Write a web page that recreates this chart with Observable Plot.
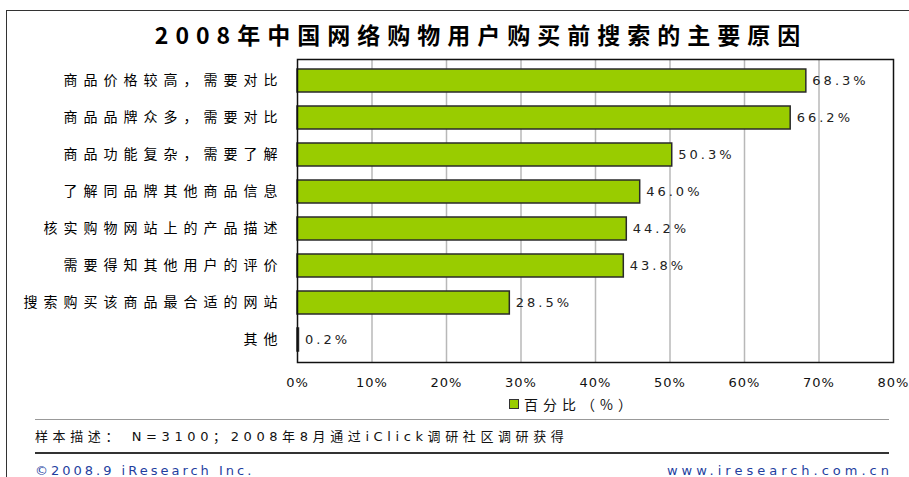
<!DOCTYPE html>
<html>
<head>
<meta charset="utf-8">
<script src="https://cdn.jsdelivr.net/npm/d3@7"></script>
<script src="https://cdn.jsdelivr.net/npm/@observablehq/plot@0.6"></script>
<style>
  html, body { margin: 0; padding: 0; background: #fff; }
  #wrap { position: relative; width: 909px; height: 477px; overflow: hidden; background: #fff;
          font-family: "DejaVu Sans", "Noto Sans CJK SC", sans-serif; color: #111; }
  #outer { position: absolute; left: 6px; top: 10px; width: 950px; height: 500px;
           border-top: 1.5px solid #333; border-left: 1.5px solid #333; }
  #title { position: absolute; left: 0; top: 19px; width: 962px; text-align: center;
           font-family: "Noto Sans CJK SC", sans-serif; font-weight: bold; font-size: 23px;
           letter-spacing: 7px; line-height: 30px; color: #000; }
  #chart { position: absolute; left: 0; top: 0; }
  #legend { position: absolute; left: 509px; top: 396px; font-size: 14px; line-height: 16px;
            font-family: "Noto Sans CJK SC", sans-serif; letter-spacing: 5px; display: flex; align-items: center; }
  #legend .sw { width: 8px; height: 8px; background: #99cc00; border: 1.5px solid #333; margin-right: 5px; }
  .line { position: absolute; left: 35px; width: 854px; }
  #note { position: absolute; left: 35px; top: 428px; font-size: 13px; line-height: 18px; letter-spacing: 4.6px; }
  #copy { position: absolute; left: 35px; top: 462px; font-size: 13px; line-height: 18px; letter-spacing: 3px; color: #1f3f9f; }
  #site { position: absolute; right: 16px; top: 462px; font-size: 13px; line-height: 18px; letter-spacing: 4px; color: #1f3f9f; }
  g[aria-label="y-axis tick label"] text { letter-spacing: 6px; }
  g[aria-label="x-axis tick label"] text { letter-spacing: 1px; }
  g[aria-label="text"] text { letter-spacing: 3px; }
</style>
</head>
<body>
<div id="wrap">
  <div id="outer"></div>
  <div id="chart"></div>
  <div id="title"></div>
  <div id="legend"><div class="sw"></div><span id="legtext"></span></div>
  <div class="line" style="top:419px;height:1px;background:#999;"></div>
  <div id="note"></div>
  <div class="line" style="top:452px;height:2px;background:#333;"></div>
  <div id="copy"></div>
  <div id="site"></div>
</div>
<script>
const titleText = "2008年中国网络购物用户购买前搜索的主要原因";
const categories = [
  "商品价格较高，需要对比",
  "商品品牌众多，需要对比",
  "商品功能复杂，需要了解",
  "了解同品牌其他商品信息",
  "核实购物网站上的产品描述",
  "需要得知其他用户的评价",
  "搜索购买该商品最合适的网站",
  "其他"
];
const values = [68.3, 66.2, 50.3, 46.0, 44.2, 43.8, 28.5, 0.2];
const xTicks = [0, 10, 20, 30, 40, 50, 60, 70, 80];
const seriesName = "百分比（%）";
const noteText = "样本描述： N=3100；2008年8月通过iClick调研社区调研获得";
const copyText = "©2008.9 iResearch Inc.";
const siteText = "www.iresearch.com.cn";

const data = categories.map((c, i) => ({category: c, value: values[i]}));

document.getElementById("title").textContent = titleText;
document.getElementById("legtext").textContent = seriesName;
document.getElementById("note").textContent = noteText;
document.getElementById("copy").textContent = copyText;
document.getElementById("site").textContent = siteText;

const chart = Plot.plot({
  width: 909,
  height: 477,
  marginLeft: 297,
  marginRight: 16,
  marginTop: 59,
  marginBottom: 115,
  style: {background: "transparent", fontFamily: "DejaVu Sans, Noto Sans CJK SC, sans-serif", fontSize: "13px", color: "#111"},
  x: {domain: [0, 80]},
  y: {domain: categories, paddingInner: 0.37, paddingOuter: 0.18},
  marks: [
    Plot.gridX(xTicks.slice(1, -1), {stroke: "#b8b8b8", strokeOpacity: 1, strokeWidth: 1.5}),
    Plot.barX(data, {x: "value", y: "category", fill: "#99cc00", stroke: "#2a2a2a", strokeWidth: 1.5}),
    Plot.text(data, {x: "value", y: "category", text: d => d.value.toFixed(1) + "%", dx: 6, textAnchor: "start",
                     fill: "#222", fontSize: 13, fontFamily: "DejaVu Sans, sans-serif"}),
    Plot.frame({stroke: "#111", strokeWidth: 1.5}),
    Plot.axisX({ticks: xTicks, tickFormat: d => d + "%", tickSize: 0, tickPadding: 15, label: null,
                fontSize: 13, fill: "#111"}),
    Plot.axisY({tickSize: 0, tickPadding: 14, label: null, fontSize: 14,
                fontFamily: "Noto Sans CJK SC, sans-serif", fill: "#000"})
  ]
});
document.getElementById("chart").appendChild(chart);
</script>
</body>
</html>
